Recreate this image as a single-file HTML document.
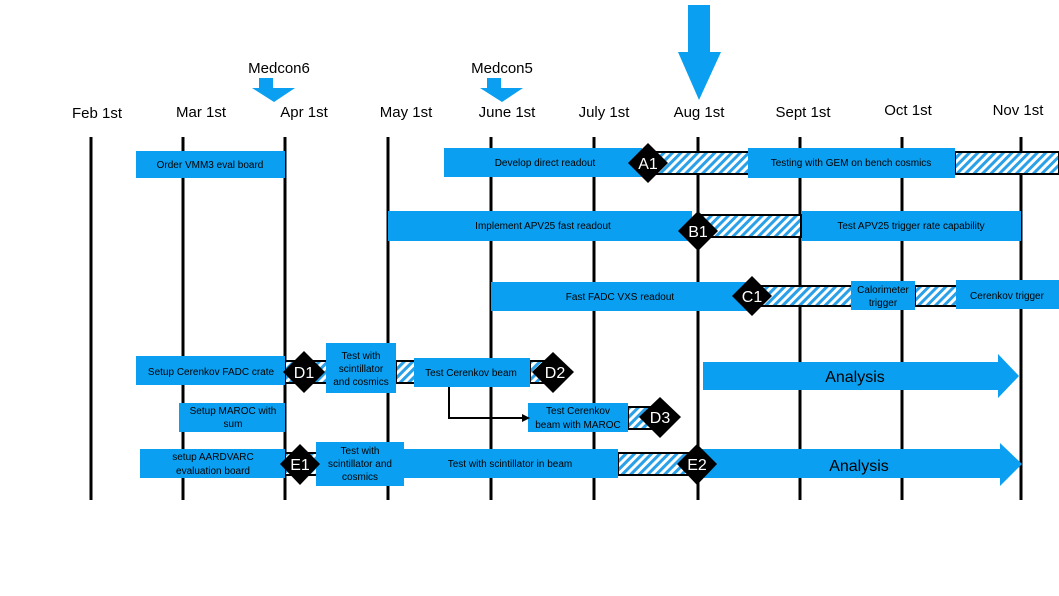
<!DOCTYPE html>
<html><head><meta charset="utf-8"><style>
html,body{margin:0;padding:0;background:#fff}
svg{display:block}
text{font-family:"Liberation Sans",sans-serif}
</style></head><body>
<svg width="1059" height="596" viewBox="0 0 1059 596" xmlns="http://www.w3.org/2000/svg">
<defs>
<pattern id="h" width="6" height="6" patternUnits="userSpaceOnUse" patternTransform="rotate(45)">
<rect width="6" height="6" fill="#fff"/><rect width="3" height="6" fill="#2aa0e8"/>
</pattern>
</defs>
<g fill="#000" font-size="15" text-anchor="middle">
<text x="97" y="118">Feb 1st</text><text x="201" y="117">Mar 1st</text><text x="304" y="117">Apr 1st</text>
<text x="406" y="117">May 1st</text><text x="507" y="117">June 1st</text><text x="604" y="117">July 1st</text>
<text x="699" y="117">Aug 1st</text><text x="803" y="117">Sept 1st</text><text x="908" y="115">Oct 1st</text>
<text x="1018" y="115">Nov 1st</text>
<text x="279" y="73">Medcon6</text><text x="502" y="73">Medcon5</text>
</g>
<g fill="#0a9ff0">
<polygon points="259,78 273,78 273,88 295,88 274,102 252,88 259,88"/>
<polygon points="487,78 501,78 501,88 523,88 502,102 480,88 487,88"/>
<polygon points="688,5 710,5 710,52 721,52 699,100 678,52 688,52"/>
</g>
<g stroke="#000" stroke-width="3">
<line x1="91" y1="137" x2="91" y2="500"/><line x1="183" y1="137" x2="183" y2="500"/>
<line x1="285" y1="137" x2="285" y2="500"/><line x1="388" y1="137" x2="388" y2="500"/>
<line x1="491" y1="137" x2="491" y2="500"/><line x1="594" y1="137" x2="594" y2="500"/>
<line x1="698" y1="137" x2="698" y2="500"/><line x1="800" y1="137" x2="800" y2="500"/>
<line x1="902" y1="137" x2="902" y2="500"/><line x1="1021" y1="137" x2="1021" y2="500"/>
</g>
<!-- hatched bars -->
<g fill="url(#h)" stroke="#000" stroke-width="2">
<rect x="655" y="152" width="95" height="22"/><rect x="955" y="152" width="104" height="22"/>
<rect x="700" y="215" width="101" height="22"/>
<rect x="760" y="286" width="92" height="20"/><rect x="915" y="286" width="42" height="20"/>
<rect x="285" y="361" width="42" height="22"/><rect x="396" y="361" width="19" height="22"/>
<rect x="530" y="361" width="16" height="22"/><rect x="628" y="407" width="24" height="22"/>
<rect x="285" y="453" width="32" height="22"/><rect x="618" y="453" width="78" height="22"/>
</g>
<!-- blue boxes -->
<g fill="#0a9ff0">
<rect x="136" y="151" width="149" height="27"/><rect x="444" y="148" width="198" height="29"/>
<rect x="748" y="148" width="207" height="30"/>
<rect x="388" y="211" width="304" height="30"/><rect x="802" y="211" width="219" height="30"/>
<rect x="491" y="282" width="256" height="29"/><rect x="851" y="281" width="64" height="29"/>
<rect x="956" y="280" width="103" height="29"/>
<rect x="136" y="356" width="149" height="29"/><rect x="326" y="343" width="70" height="50"/>
<rect x="414" y="358" width="116" height="29"/>
<rect x="179" y="403" width="106" height="29"/><rect x="528" y="403" width="100" height="29"/>
<rect x="140" y="449" width="145" height="29"/><rect x="316" y="442" width="88" height="44"/>
<rect x="404" y="449" width="214" height="29"/>
<polygon points="703,362 998,362 998,354 1019,376 998,398 998,390 703,390"/>
<polygon points="697,449 1000,449 1000,443 1022,464 1000,486 1000,478 697,478"/>
</g>
<!-- connector -->
<polyline points="449,387 449,418 523,418" fill="none" stroke="#000" stroke-width="2"/>
<polygon points="530,418 522,414 522,422" fill="#000"/>
<!-- diamonds -->
<g fill="#000">
<polygon points="648,143 668,163 648,183 628,163"/>
<polygon points="698,211 718,231 698,251 678,231"/>
<polygon points="752,276 772,296 752,316 732,296"/>
<polygon points="304,351 325,372 304,393 283,372"/>
<polygon points="553,352 574,372 553,393 532,372"/>
<polygon points="660,397 681,417 660,438 639,417"/>
<polygon points="300,444 320,464 300,485 280,464"/>
<polygon points="697,444 717,464 697,485 677,464"/>
</g>
<g fill="#fff" font-size="16" text-anchor="middle">
<text x="648" y="169">A1</text><text x="698" y="237">B1</text><text x="752" y="302">C1</text>
<text x="304" y="378">D1</text><text x="555" y="378">D2</text><text x="660" y="423">D3</text>
<text x="300" y="470">E1</text><text x="697" y="470">E2</text>
</g>
<g fill="#000" font-size="10" text-anchor="middle" font-family="Liberation Sans">
<text x="210" y="168">Order VMM3 eval board</text>
<text x="545" y="166">Develop direct readout</text>
<text x="851" y="166">Testing with GEM on bench cosmics</text>
<text x="543" y="229">Implement APV25 fast readout</text>
<text x="911" y="229">Test APV25 trigger rate capability</text>
<text x="620" y="300">Fast FADC VXS readout</text>
<text x="883" y="293">Calorimeter</text><text x="883" y="306">trigger</text>
<text x="1007" y="299">Cerenkov trigger</text>
<text x="211" y="375">Setup Cerenkov FADC crate</text>
<text x="361" y="359">Test with</text><text x="361" y="372">scintillator</text><text x="361" y="385">and cosmics</text>
<text x="471" y="376">Test Cerenkov beam</text>
<text x="233" y="414">Setup MAROC with</text><text x="233" y="427">sum</text>
<text x="578" y="414">Test Cerenkov</text><text x="578" y="428">beam with MAROC</text>
<text x="213" y="460">setup AARDVARC</text><text x="213" y="474">evaluation board</text>
<text x="360" y="454">Test with</text><text x="360" y="467">scintillator and</text><text x="360" y="480">cosmics</text>
<text x="510" y="467">Test with scintillator in beam</text>
</g>
<g fill="#000" font-size="16" text-anchor="middle">
<text x="855" y="382">Analysis</text><text x="859" y="471">Analysis</text>
</g>
</svg>
</body></html>
